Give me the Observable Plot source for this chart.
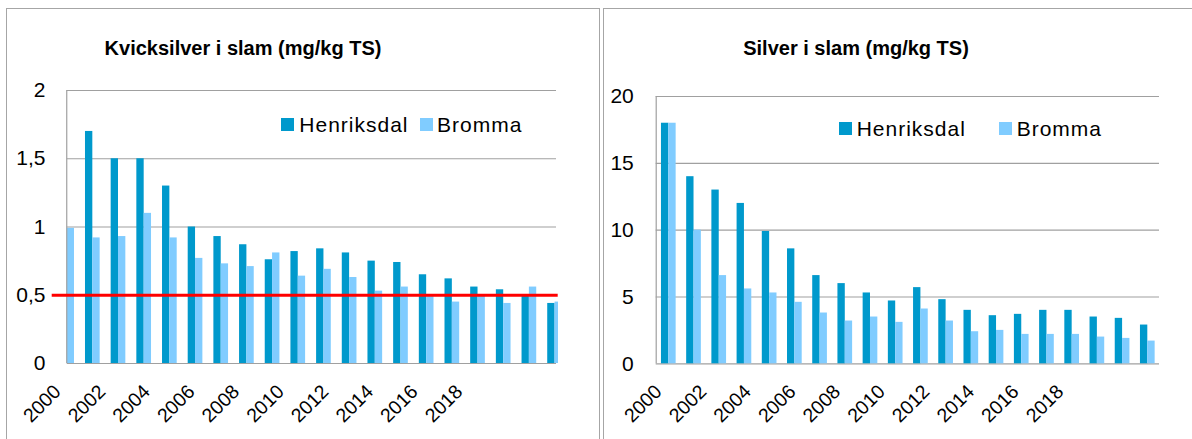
<!DOCTYPE html>
<html><head><meta charset="utf-8">
<script src="https://cdn.jsdelivr.net/npm/d3@7"></script>
<script src="https://cdn.jsdelivr.net/npm/@observablehq/plot@0.6"></script>
<style>
html,body{margin:0;padding:0;background:#fff;}
#page{position:relative;width:1192px;height:439px;overflow:hidden;font-family:"Liberation Sans",Arial,sans-serif;color:#000;background:#fff;}
.panel{position:absolute;box-sizing:border-box;border:1px solid #a6a6a6;}
.wrap{position:absolute;overflow:hidden;}
.wrap svg{display:block;max-width:none;}
.title{position:absolute;font-weight:bold;font-size:20px;line-height:20px;text-align:center;white-space:nowrap;}
.sw{position:absolute;width:12.5px;height:12.5px;}
.lg{position:absolute;font-size:21px;line-height:21px;letter-spacing:1px;white-space:nowrap;}
</style></head><body><div id="page"></div><script>
// ---- data ----
const years = [2000,2001,2002,2003,2004,2005,2006,2007,2008,2009,2010,2011,2012,2013,2014,2015,2016,2017,2018,2019];
const xTickYears = [2000,2002,2004,2006,2008,2010,2012,2014,2016,2018];
const seriesNames = ["Henriksdal","Bromma"];
const seriesColors = ["#0099cc","#80ccff"];
const titles = ["Kvicksilver i slam (mg/kg TS)","Silver i slam (mg/kg TS)"];

const hgTicks = [0,0.5,1,1.5,2];
const hgTickLabels = ["0","0,5","1","1,5","2"];
const hgHenriksdal = [null,1.70,1.50,1.50,1.30,1.00,0.93,0.87,0.76,0.82,0.84,0.81,0.75,0.74,0.65,0.62,0.56,0.54,0.50,0.44];
const hgBromma     = [0.99,0.92,0.93,1.10,0.92,0.77,0.73,0.71,0.81,0.64,0.69,0.63,0.53,0.56,0.49,0.45,0.50,0.44,0.56,0.45];
const hgLimit = [0.5];

const agTicks = [0,5,10,15,20];
const agTickLabels = ["0","5","10","15","20"];
const agHenriksdal = [18,14,13,12,9.9,8.6,6.6,6.0,5.3,4.7,5.7,4.8,4.0,3.6,3.7,4.0,4.0,3.5,3.4,2.9];
const agBromma     = [18,10,6.6,5.6,5.3,4.6,3.8,3.2,3.5,3.1,4.1,3.2,2.4,2.5,2.2,2.2,2.2,2.0,1.9,1.7];

// ---- helpers ----
const rows = (vals) => years.map((year, i) => ({year, value: vals[i]})).filter(d => d.value != null);
const page = document.getElementById("page");
function add(tag, cls, css, text) {
  const el = document.createElement(tag);
  if (cls) el.className = cls;
  Object.assign(el.style, css);
  if (text != null) el.textContent = text;
  page.appendChild(el);
  return el;
}
const gridColor = "#a0a0a0";
const baseStyle = {fontFamily: "Liberation Sans, Arial, sans-serif", fontSize: "21px", color: "#000", background: "transparent", overflow: "visible"};

// panels
add("div", "panel", {left: "6px", top: "8px", width: "594px", height: "460px"});
add("div", "panel", {left: "603px", top: "8px", width: "700px", height: "460px"});

// ---- left chart: mercury ----
const hgPlot = Plot.plot({
  width: 600, height: 439,
  marginLeft: 53.8, marginRight: 32.6, marginTop: 90, marginBottom: 76,
  x: {type: "band", domain: years, padding: 0, round: false, axis: null},
  y: {domain: [0, 2], label: null},
  style: baseStyle,
  marks: [
    Plot.ruleY(hgTicks, {stroke: gridColor, strokeWidth: 1.2, insetLeft: 12.9, insetRight: 11.4}),
    Plot.barY(rows(hgHenriksdal), {x: "year", y: "value", fill: seriesColors[0], insetLeft: 5.5, insetRight: 12.84}),
    Plot.barY(rows(hgBromma), {x: "year", y: "value", fill: seriesColors[1], insetLeft: 12.84, insetRight: 5.5}),
    Plot.ruleX([years[0]], {stroke: gridColor, strokeWidth: 1.2, dx: -0.4}),
    Plot.ruleY(hgLimit, {stroke: "#ff0000", strokeWidth: 3, insetLeft: -2.1, insetRight: 9.7}),
    Plot.axisY({ticks: hgTicks, tickSize: 0, tickPadding: 8.8, tickFormat: d => hgTickLabels[hgTicks.indexOf(d)], label: null})
  ]
});
const w1 = add("div", "wrap", {left: "0px", top: "0px", width: "558px", height: "439px"});
w1.appendChild(hgPlot);

// ---- right chart: silver ----
const agPlot = Plot.plot({
  width: 592, height: 439,
  marginLeft: 55.7, marginRight: 32.1, marginTop: 96, marginBottom: 75.7,
  x: {type: "band", domain: years, padding: 0, round: false, axis: null},
  y: {domain: [0, 20], label: null},
  style: baseStyle,
  marks: [
    Plot.ruleY(agTicks, {stroke: gridColor, strokeWidth: 1.2, insetRight: 0.9}),
    Plot.barY(rows(agHenriksdal), {x: "year", y: "value", fill: seriesColors[0], insetLeft: 5.26, insetRight: 12.6}),
    Plot.barY(rows(agBromma), {x: "year", y: "value", fill: seriesColors[1], insetLeft: 12.6, insetRight: 5.26}),
    Plot.ruleX([years[0]], {stroke: gridColor, strokeWidth: 1.2, dx: -12.6}),
    Plot.axisY({ticks: agTicks, tickSize: 0, tickPadding: 22.4, tickFormat: d => agTickLabels[agTicks.indexOf(d)], label: null})
  ]
});
const w2 = add("div", "wrap", {left: "600px", top: "0px", width: "592px", height: "439px"});
w2.appendChild(agPlot);

// ---- rotated year labels (category axis strips) ----
function yearStrip(left0) {
  return Plot.plot({
    width: 600, height: 76,
    marginLeft: left0, marginRight: 600 - (left0 + 19 * 22.32), marginTop: 0, marginBottom: 0,
    x: {type: "point", domain: years, padding: 0, round: false, axis: null},
    y: {axis: null},
    style: {...baseStyle, fontSize: "19.5px"},
    marks: [
      Plot.text(xTickYears, {x: d => d, text: d => String(d), rotate: -45, textAnchor: "end", lineAnchor: "middle", frameAnchor: "top", dy: 25, fill: "#000"})
    ]
  });
}
const s1 = add("div", "wrap", {left: "0px", top: "363px", width: "600px", height: "76px"});
s1.appendChild(yearStrip(57));
const s2 = add("div", "wrap", {left: "600px", top: "363px", width: "592px", height: "76px"});
s2.appendChild(yearStrip(58));

// ---- titles ----
add("div", "title", {left: "43px", top: "38px", width: "400px"}, titles[0]);
add("div", "title", {left: "656px", top: "38px", width: "400px"}, titles[1]);

// ---- legends ----
function legend(items) {
  items.forEach(({sx, tx, cy}, i) => {
    add("div", "sw", {left: sx + "px", top: (cy - 6.25) + "px", background: seriesColors[i]});
    add("div", "lg", {left: tx + "px", top: (cy - 10.25) + "px"}, seriesNames[i]);
  });
}
legend([{sx: 281, tx: 299.3, cy: 124.5}, {sx: 420, tx: 437, cy: 124.5}]);
legend([{sx: 839.3, tx: 856.7, cy: 128.5}, {sx: 999.3, tx: 1016.7, cy: 128.5}]);
</script></body></html>
